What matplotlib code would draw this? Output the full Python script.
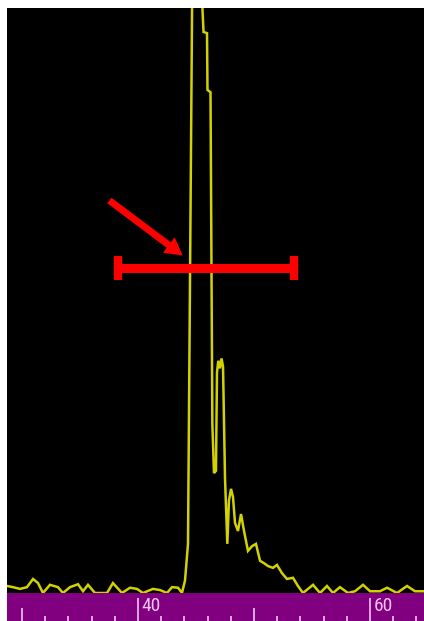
import matplotlib
matplotlib.use("Agg")
import matplotlib.pyplot as plt
from matplotlib.patches import FancyArrowPatch, ArrowStyle
from matplotlib import font_manager
import numpy as np

# ---- data ----
mz = [28.71, 29.22, 29.83, 30.43, 30.95, 31.38, 31.81, 32.41, 33.10, 33.53,
      34.14, 34.83, 35.26, 35.69, 36.29, 37.33, 37.84, 38.62, 39.31, 39.91,
      40.43, 41.29, 41.90, 42.50, 42.93, 43.45, 43.79, 44.05, 44.31, 44.83,
      45.26, 45.56, 45.65, 45.95, 45.99, 46.25, 46.41, 46.55, 46.72, 46.81,
      46.92, 47.07, 47.20, 47.33, 47.50, 47.70, 47.84, 48.02, 48.19, 48.36,
      48.62, 48.88, 49.14, 49.48, 49.83, 50.17, 50.52, 50.86, 51.21, 51.64,
      51.98, 52.41, 52.84, 53.36, 53.79, 54.22, 55.09, 55.69, 56.29, 56.81,
      57.41, 58.10, 58.71, 59.40, 60.00, 60.86, 61.47, 62.33, 63.19, 63.88,
      64.66]
intensity = [1.2, 1.0, 0.7, 1.0, 2.4, 1.7, 0.0, 1.4, 1.0, 0.0,
             1.0, 1.5, 0.3, 1.4, 0.0, 0.0, 1.7, 0.0, 0.9, 0.7,
             0.0, 0.7, 0.5, 0.0, 1.0, 0.9, 0.0, 2.1, 8.4, 144.0,
             144.0, 99.7, 95.9, 95.7, 86.0, 85.6, 28.9, 20.5, 20.9, 37.7,
             39.7, 38.4, 40.1, 38.7, 19.7, 8.4, 15.8, 17.8, 16.4, 12.0,
             10.6, 13.5, 10.6, 7.2, 8.0, 8.4, 5.5, 5.1, 4.6, 4.3,
             4.8, 3.4, 2.4, 2.6, 1.2, 0.0, 1.4, 0.0, 1.2, 0.0,
             1.0, 0.0, 0.3, 1.4, 0.3, 0.3, 0.9, 0.0, 1.2, 0.3,
             0.3]

labeled_ticks = [40, 60]
medium_ticks = [30, 50]
minor_ticks = [32, 34, 36, 38, 42, 44, 46, 48, 52, 54, 56, 58, 62, 64]

# width marker (horizontal bar) and arrow
bar_center, bar_half, bar_y = 45.85, 7.57, 55.5
arrow_start = (37.53, 67.1)
arrow_tip = (43.85, 57.7)

XMIN, XMAX = 28.707, 64.655

# pick a narrow font if one is installed
installed = {f.name for f in font_manager.fontManager.ttflist}
label_family = [f for f in ["DejaVu Sans Condensed", "Liberation Sans Narrow",
                            "Roboto Condensed", "DejaVu Sans"] if f in installed]
if not label_family:
    label_family = ["DejaVu Sans"]

W, H = 424, 621
fig = plt.figure(figsize=(W / 100, H / 100), dpi=100, facecolor="white")

ax = fig.add_axes([7 / W, 28 / H, 417 / W, 585 / H])
ax.set_facecolor("black")
ax.plot(mz, intensity, color="#d2d200", lw=1.8, solid_joinstyle="miter")
ax.set_xlim(XMIN, XMAX)
ax.set_ylim(0, 100)
ax.set_xticks([])
ax.set_yticks([])
for s in ax.spines.values():
    s.set_visible(False)

# red width bar with caps
ax.errorbar([bar_center], [bar_y], xerr=[bar_half], color="#ff0000",
            elinewidth=6.5, capsize=8.3, capthick=6.0, fmt="none", zorder=5)

# red arrow
arr = FancyArrowPatch(arrow_start, arrow_tip,
                      arrowstyle=ArrowStyle("Simple", head_length=12.5,
                                            head_width=14.0, tail_width=5.0),
                      mutation_scale=1, color="#ff0000", lw=0, zorder=6,
                      shrinkA=0, shrinkB=0)
ax.add_patch(arr)

# purple axis bar
ax2 = fig.add_axes([7 / W, 0, 417 / W, 28 / H])
ax2.set_facecolor("#800080")
ax2.set_xlim(XMIN, XMAX)
ax2.set_ylim(0, 1)
ax2.set_xticks([])
ax2.set_yticks([])
for s in ax2.spines.values():
    s.set_visible(False)

tick_col = "#f0c4f0"
ax2.vlines(labeled_ticks, 0, 0.82, color=tick_col, lw=1.2)
ax2.vlines(medium_ticks, 0, 0.46, color=tick_col, lw=1.2)
ax2.vlines(minor_ticks, 0, 0.18, color=tick_col, lw=1.2)
for t in labeled_ticks:
    ax2.text(t + 0.3, 0.55, str(t), color=tick_col, fontsize=14,
             family=label_family, ha="left", va="center")

fig.savefig("out.png", dpi=100, facecolor="white")
